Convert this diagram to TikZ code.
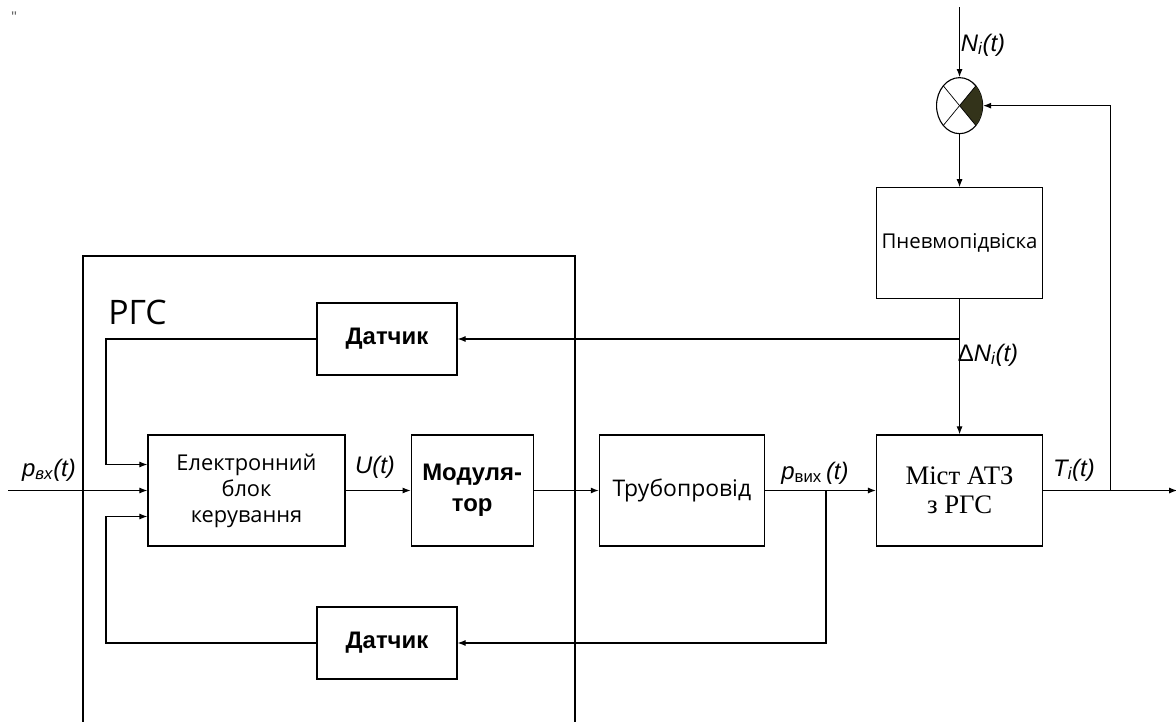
\documentclass[tikz,border=0pt]{standalone}
\usepackage{fontspec}
\setmainfont{Open Sans}
\newfontfamily\labfont{Liberation Sans}
\newfontfamily\mistfont{Liberation Serif}
\usetikzlibrary{arrows.meta, positioning, shapes.geometric}
\definecolor{quadfill}{HTML}{33331A}
\newcommand{\siglab}[2]{{\labfont\itshape #1\textsubscript{#2}(t)}}

\begin{document}
\begin{tikzpicture}[ x=0.025cm, y=-0.025cm, >={Latex[length=2mm,width=1.5mm]}, line width=0.8pt, block/.style={draw, inner sep=2pt, minimum width=#1, minimum height=2.775cm, align=center, font=\fontsize{15.5}{18.5}\selectfont}, block/.default=4.15cm, sensor/.style={draw, minimum width=3.5cm, minimum height=1.8cm, font=\labfont\bfseries\fontsize{17}{19}\selectfont}, lab/.style={font=\fontsize{17}{19}\selectfont} ]
		\useasboundingbox (0,0) rectangle (1176,722);
		\node[text=black!60, font=\labfont\fontsize{11}{11}\selectfont] (qm) at (14,17) {"};
		% RGC frame
		\draw (83,722) |- (575,256) -- (575,722);
		\node[font=\fontsize{24}{24}\selectfont, anchor=base west] (rgc) at (103,324) {РГС};
		% main chain
		\node[block=4.925cm] (eb) at (246.5,490.5) {Електронний\\блок\\керування};
		\node[block=3.05cm, right=1.625cm of eb, font=\labfont\bfseries\fontsize{17}{22}\selectfont] (mod) {Модуля-\\тор};
		\node[block=4.125cm, right=1.625cm of mod, font=\fontsize{16.3}{19}\selectfont] (pipe) {Трубопровід};
		\node[block, right=2.775cm of pipe, font=\mistfont\fontsize{19}{21}\selectfont] (mist) {Міст АТЗ\\з РГС};
		\node[block, above=3.375cm of mist, font=\fontsize{14.5}{17}\selectfont] (pnev) {Пневмопідвіска};
		\node[draw, ellipse, fill=white, inner sep=0pt, minimum width=1.15cm, minimum height=1.4cm, above=1.325cm of pnev] (sum) {};
		\fill[quadfill] (sum.center) -- +(45:0.575cm and 0.7cm) arc[start angle=45, end angle=-45, x radius=0.575cm, y radius=0.7cm] -- cycle;
		\foreach \a in {45,135,225,315} \draw[line width=0.5pt] (sum.center) -- +(\a:0.575cm and 0.7cm);
		\node[sensor] (dt1) at (387,339) {Датчик};
		\node[sensor] (dt2) at (387,643) {Датчик};
		% helper points
		\coordinate (in) at (8,490.5);
		\coordinate (lft) at (106,0);
		\coordinate (fb1) at ([yshift=0.65cm]eb.west);
		\coordinate (fb2) at ([yshift=-0.65cm]eb.west);
		\coordinate (ntop) at ([yshift=1.75cm]sum.north);
		\coordinate (out) at ([xshift=3.35cm]mist.east);
		\coordinate (tb) at ([xshift=1.675cm]mist.east);
		\coordinate (pb) at ([xshift=1.525cm]pipe.east);
		\coordinate (dn) at (pnev.south |- dt1.east);
		% forward path
		\draw[->] (in) -- (eb.west);
		\draw[->] (eb.east) -- (mod.west);
		\draw[->] (mod.east) -- (pipe.west);
		\draw[->] (pipe.east) -- (mist.west);
		\draw[->] (mist.east) -- (out);
		% suspension branch
		\draw[->] (ntop) -- (sum.north);
		\draw[->] (sum.south) -- (pnev.north);
		\draw[->] (pnev.south) -- (mist.north);
		\draw[->] (dn) -- (dt1.east);
		\draw[->] (tb) |- (sum.east);
		% sensor loops
		\draw[->] (dt1.west) -- (lft |- dt1.west) -- (lft |- fb1) -- (fb1);
		\draw[->] (pb) |- (dt2.east);
		\draw[->] (dt2.west) -- (lft |- dt2.west) -- (lft |- fb2) -- (fb2);
		% signal labels
		\node[lab] (lpin) at (49,470) {\siglab{p}{вх}};
		\node[lab] (lu) at (375,467) {{\labfont\itshape U(t)}};
		\node[lab] (lpout) at (815,473) {{\labfont\itshape p\textsubscript{\upshape вих}\,(t)}};
		\node[lab] (lt) at (1074,470) {\siglab{T}{i}};
		\node[lab] (ln) at (983,45) {\siglab{N}{i}};
		\node[lab] (ldn) at (988,355) {{\labfont Δ\itshape N\textsubscript{i}(t)}};
\end{tikzpicture}
\end{document}
